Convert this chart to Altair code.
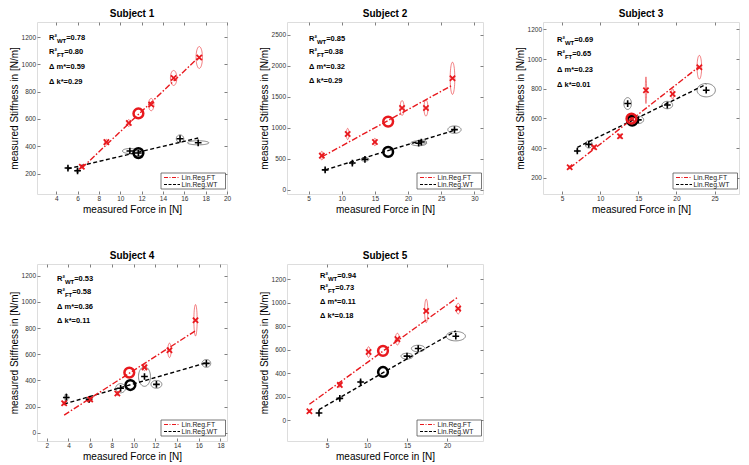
import numpy as np
import pandas as pd
import altair as alt

SUBJECTS = ["Subject 1", "Subject 2", "Subject 3", "Subject 4", "Subject 5"]

# free-trajectory (FT) trials: force, stiffness, ellipse half-widths
FT_FORCE = [[6.4, 8.7, 10.8, 12.9, 15.0, 17.4],
            [7.0, 10.9, 15.0, 19.1, 22.7, 26.7],
            [6.0, 9.2, 12.6, 14.1, 16.0, 19.5, 23.0],
            [3.6, 6.0, 8.5, 11.0, 13.3, 15.7],
            [2.8, 6.6, 10.2, 13.8, 17.4, 21.4]]
FT_STIFF = [[250, 430, 570, 705, 900, 1050],
            [550, 900, 770, 1320, 1320, 1800],
            [270, 405, 480, 600, 790, 765, 945],
            [225, 255, 300, 500, 630, 860],
            [75, 300, 580, 690, 930, 950]]
FT_SD_FORCE = [[0.1, 0.15, 0.15, 0.25, 0.3, 0.3],
               [0.2, 0.2, 0.2, 0.3, 0.3, 0.35],
               [0.1, 0.15, 0.15, 0.3, 0.08, 0.15, 0.3],
               [0.1, 0.1, 0.1, 0.15, 0.15, 0.15],
               [0.1, 0.15, 0.2, 0.25, 0.2, 0.25]]
FT_SD_STIFF = [[10, 20, 25, 45, 55, 80],
               [70, 90, 60, 120, 130, 260],
               [10, 12, 15, 20, 90, 35, 80],
               [15, 15, 15, 25, 55, 120],
               [10, 20, 45, 50, 100, 45]]

# wrist-tracking (WT) trials
WT_FORCE = [[5.1, 6.0, 10.9, 11.7, 15.6, 17.3],
            [7.5, 11.6, 13.5, 21.6, 22.0, 27.0],
            [7.0, 8.5, 13.6, 15.0, 18.8, 23.9],
            [3.8, 5.9, 8.8, 11.0, 12.1, 16.7],
            [4.0, 6.6, 9.2, 15.0, 16.4, 21.1]]
WT_STIFF = [[240, 220, 365, 350, 455, 425],
            [320, 430, 490, 750, 770, 970],
            [380, 425, 700, 590, 690, 790],
            [270, 255, 340, 430, 370, 530],
            [60, 185, 325, 545, 610, 715]]
WT_SD_FORCE = [[0.15, 0.15, 0.7, 0.5, 0.35, 1.0],
               [0.2, 0.3, 0.6, 1.2, 0.8, 1.0],
               [0.15, 0.45, 0.5, 0.7, 0.7, 1.2],
               [0.15, 0.2, 0.45, 0.55, 0.5, 0.4],
               [0.1, 0.15, 0.2, 0.75, 0.85, 1.2]]
WT_SD_STIFF = [[10, 15, 18, 20, 28, 15],
               [20, 25, 30, 40, 35, 60],
               [10, 25, 40, 25, 25, 45],
               [30, 20, 35, 75, 30, 30],
               [10, 15, 15, 25, 28, 40]]

MEAN_FT_FORCE = [11.7, 17.0, 14.1, 9.6, 12.0]
MEAN_FT_STIFF = [640, 1100, 598, 460, 590]
MEAN_WT_FORCE = [11.7, 17.0, 14.2, 9.7, 12.0]
MEAN_WT_STIFF = [350, 610, 585, 365, 410]

# regression line end points: x0, y0, x1, y1
REG_FT = [[6.4, 240, 17.4, 1055], [7.0, 530, 26.7, 1690], [6.0, 265, 23.0, 950],
          [3.6, 135, 15.7, 780], [2.8, 135, 21.4, 1050]]
REG_WT = [[5.1, 235, 17.3, 460], [7.5, 320, 27.0, 960], [7.0, 405, 23.9, 830],
          [3.6, 220, 16.7, 535], [4.0, 90, 21.1, 760]]

R2_WT = ["0.78", "0.85", "0.69", "0.53", "0.94"]
R2_FT = ["0.80", "0.38", "0.65", "0.58", "0.73"]
DELTA_M = ["0.59", "0.32", "0.23", "0.36", "0.11"]
DELTA_K = ["0.29", "0.29", "0.01", "0.11", "0.18"]

X_DOMAIN = [[2.2, 20], [1.75, 31.3], [2.5, 28.2], [1.1, 18.6], [0, 24.5]]
Y_DOMAIN = [[50, 1310], [-70, 2710], [90, 1250], [-63, 1290], [-178, 1330]]
X_TICKS = [[4, 6, 8, 10, 12, 14, 16, 18, 20], [5, 10, 15, 20, 25, 30],
           [5, 10, 15, 20, 25], [2, 4, 6, 8, 10, 12, 14, 16, 18], [5, 10, 15, 20]]
Y_TICKS = [[200, 400, 600, 800, 1000, 1200], [0, 500, 1000, 1500, 2000, 2500],
           [200, 400, 600, 800, 1000, 1200], [0, 200, 400, 600, 800, 1000, 1200],
           [0, 200, 400, 600, 800, 1000, 1200]]

# annotation layout (pixels inside each panel)
TEXT_X = [12, 22, 14, 20, 33]
TEXT_Y = [[16, 30, 45, 60], [17, 30, 45, 59], [18, 32, 48, 63], [15, 28, 43, 57], [12, 24, 38, 52]]
PANEL_W = [190, 196, 196, 190, 196]
PANEL_H = [172, 172, 172, 177, 177]

RED = "#e8191e"
GREY = "#808080"
XPATH = "M-1,-1L1,1M-1,1L1,-1"
PPATH = "M-1,0L1,0M0,-1L0,1"
ONE = alt.Data(values=[{"a": 1}])

AX = dict(domain=False, grid=False, tickSize=3, offset=-3, tickColor=GREY, tickWidth=1,
          labelFontSize=6.5, labelColor="#333333", labelPadding=1.5, labelFlush=False,
          labelOverlap=False, format="d", titleFontSize=10, titleFontWeight="normal",
          titleColor="#000000", titlePadding=2)
AXT = dict(domain=False, grid=False, tickSize=3, offset=-3, tickColor=GREY, tickWidth=1,
           labels=False, title=None)


def ellipse_df(cx, cy, rx, ry, tag):
    t = np.linspace(0, 2 * np.pi, 49)
    rows = []
    for j, (a, b, c, d) in enumerate(zip(cx, cy, rx, ry)):
        for k, tt in enumerate(t):
            rows.append({"id": f"{tag}{j}", "k": k, "x": a + c * np.cos(tt), "y": b + d * np.sin(tt)})
    return pd.DataFrame(rows)


def txt(s, x, y, size, weight="bold", color="#000000"):
    return alt.Chart(ONE).mark_text(text=s, align="left", baseline="middle", fontSize=size,
                                    fontWeight=weight, color=color).encode(
        x=alt.value(x), y=alt.value(y))


def panel(i):
    W, H = PANEL_W[i], PANEL_H[i]
    xs = alt.Scale(domain=X_DOMAIN[i], nice=False, zero=False)
    ys = alt.Scale(domain=Y_DOMAIN[i], nice=False, zero=False)
    X = alt.X("x:Q", scale=xs, axis=None)
    Y = alt.Y("y:Q", scale=ys, axis=None)
    XA = alt.X("x:Q", scale=xs, axis=alt.Axis(orient="bottom", values=X_TICKS[i],
                                              title="measured Force in [N]", **AX))
    YA = alt.Y("y:Q", scale=ys, axis=alt.Axis(orient="left", values=Y_TICKS[i],
                                              title="measured Stiffness in [N/m]", **AX))
    XT = alt.X("x:Q", scale=xs, axis=alt.Axis(orient="top", values=X_TICKS[i], **AXT))
    YT = alt.Y("y:Q", scale=ys, axis=alt.Axis(orient="right", values=Y_TICKS[i], **AXT))

    e_ft = ellipse_df(FT_FORCE[i], FT_STIFF[i], FT_SD_FORCE[i], FT_SD_STIFF[i], "f")
    e_wt = ellipse_df(WT_FORCE[i], WT_STIFF[i], WT_SD_FORCE[i], WT_SD_STIFF[i], "w")
    ft = pd.DataFrame({"x": FT_FORCE[i], "y": FT_STIFF[i]})
    wt = pd.DataFrame({"x": WT_FORCE[i], "y": WT_STIFF[i]})
    rf = pd.DataFrame({"x": [REG_FT[i][0], REG_FT[i][2]], "y": [REG_FT[i][1], REG_FT[i][3]]})
    rw = pd.DataFrame({"x": [REG_WT[i][0], REG_WT[i][2]], "y": [REG_WT[i][1], REG_WT[i][3]]})
    mf = pd.DataFrame({"x": [MEAN_FT_FORCE[i]], "y": [MEAN_FT_STIFF[i]]})
    mw = pd.DataFrame({"x": [MEAN_WT_FORCE[i]], "y": [MEAN_WT_STIFF[i]]})

    layers = [
        alt.Chart(e_wt).mark_line(color="#555555", strokeWidth=0.7).encode(
            x=XA, y=YA, detail="id:N", order="k:Q"),
        alt.Chart(e_ft).mark_line(color=RED, strokeWidth=0.7, opacity=0.8).encode(
            x=XT, y=YT, detail="id:N", order="k:Q"),
        alt.Chart(rw).mark_line(color="#000000", strokeDash=[4, 2.5], strokeWidth=1.4).encode(x=X, y=Y),
        alt.Chart(rf).mark_line(color=RED, strokeDash=[6, 2, 1.5, 2], strokeWidth=1.4).encode(x=X, y=Y),
        alt.Chart(wt).mark_point(shape=PPATH, size=45, color="#000000", strokeWidth=1.6,
                                 filled=False, opacity=1).encode(x=X, y=Y),
        alt.Chart(ft).mark_point(shape=XPATH, size=28, color=RED, strokeWidth=1.8,
                                 filled=False, opacity=1).encode(x=X, y=Y),
        alt.Chart(mw).mark_point(shape="circle", size=95, color="#000000", strokeWidth=2.5,
                                 filled=False, opacity=1).encode(x=X, y=Y),
        alt.Chart(mf).mark_point(shape="circle", size=95, color=RED, strokeWidth=2.5,
                                 filled=False, opacity=1).encode(x=X, y=Y),
    ]
    x0 = TEXT_X[i]
    ty = TEXT_Y[i]
    layers += [
        txt("R²", x0, ty[0], 7.5), txt("WT", x0 + 7.9, ty[0] + 2.6, 6), txt("=" + R2_WT[i], x0 + 17.2, ty[0], 7.5),
        txt("R²", x0, ty[1], 7.5), txt("FT", x0 + 7.9, ty[1] + 2.6, 6), txt("=" + R2_FT[i], x0 + 15.2, ty[1], 7.5),
        txt("Δ m*=" + DELTA_M[i], x0, ty[2], 7.5),
        txt("Δ k*=" + DELTA_K[i], x0, ty[3], 7.5),
    ]
    # legend box
    layers += [
        alt.Chart(ONE).mark_rect(fill="#ffffff", stroke="#555555", strokeWidth=0.8).encode(
            x=alt.value(W - 66), x2=alt.value(W - 1.5), y=alt.value(H - 21), y2=alt.value(H - 5)),
        alt.Chart(ONE).mark_rule(color=RED, strokeDash=[4, 1.5, 1, 1.5], strokeWidth=1.2).encode(
            x=alt.value(W - 63), x2=alt.value(W - 47), y=alt.value(H - 16.5)),
        alt.Chart(ONE).mark_rule(color="#000000", strokeDash=[3, 1.5], strokeWidth=1.2).encode(
            x=alt.value(W - 63), x2=alt.value(W - 47), y=alt.value(H - 9.5)),
        txt("Lin.Reg.FT", W - 45.5, H - 16.5, 6.8, "normal", "#222222"),
        txt("Lin.Reg.WT", W - 45.5, H - 9.5, 6.8, "normal", "#222222"),
    ]
    return alt.layer(*layers).resolve_axis(x="independent", y="independent").properties(
        width=W, height=H,
        title=alt.TitleParams(SUBJECTS[i], fontSize=10, fontWeight="bold", offset=3,
                              anchor="middle", color="#000000"))


row1 = alt.hconcat(panel(0), panel(1), panel(2), spacing=60, bounds="flush")
row2 = alt.hconcat(panel(3), panel(4), spacing=60, bounds="flush")
chart = alt.vconcat(row1, row2, spacing=35).properties(
    padding={"left": 0, "top": 0, "right": 0, "bottom": 0}
).configure_view(stroke=GREY, strokeWidth=1).configure(font="Liberation Sans")

chart.save("out.html", embed_options={"renderer": "svg", "actions": False})
